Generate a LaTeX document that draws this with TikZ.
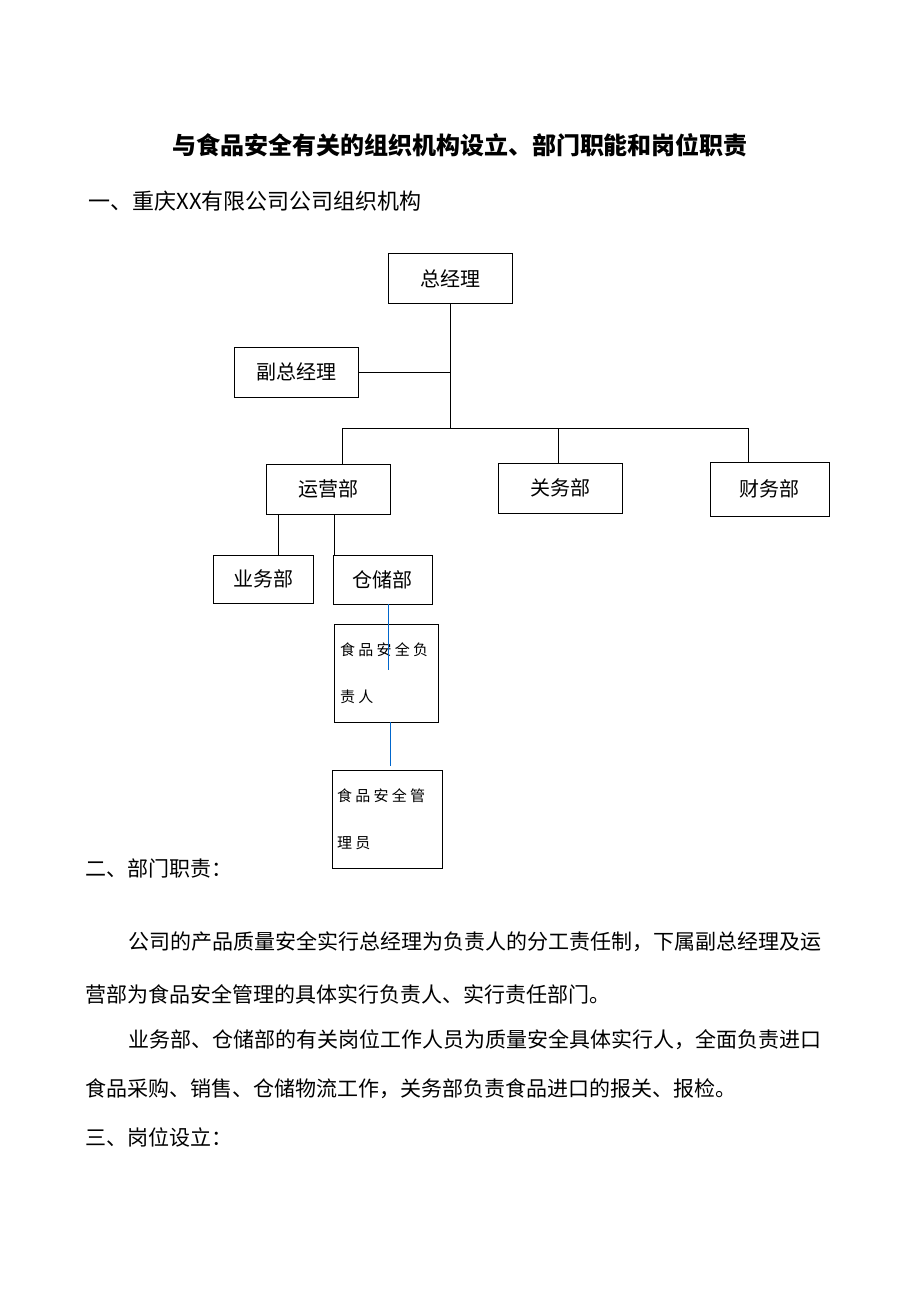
\documentclass[tikz,border=0pt]{standalone}
\usepackage{fontspec}
\setmainfont{Noto Sans CJK SC}
\newfontfamily\spacedfont[LetterSpace=22]{Noto Sans CJK SC}
\usetikzlibrary{positioning}
\begin{document}
\begin{tikzpicture}[
		x=1pt,y=-1pt,
		line width=1pt,
		box/.style={ draw, line width=.8pt, minimum width=124pt, minimum height=50pt, font=\fontsize{20}{24}\selectfont, },
		smallbox/.style={ box, minimum width=100pt, minimum height=48pt, },
		tallbox/.style={ draw, line width=.8pt, text width=92pt, minimum height=98pt, align=left,
			font=\spacedfont\fontsize{15}{47}\selectfont, },
		txt/.style={ anchor=west, inner sep=0pt, font=\fontsize{21}{25}\selectfont, },
		blueline/.style={ draw=blue!50!cyan!80!black, line width=1pt, },
		]
		\useasboundingbox (0,0) rectangle (920,1302);
		
		\node[inner sep=0pt,font=\fontsize{24}{28}\selectfont\bfseries](title) at (460,145){与食品安全有关的组织机构设立、部门职能和岗位职责};
		\node[txt,font=\fontsize{22}{26}\selectfont](head1) at (88,201){一、重庆XX有限公司公司组织机构};
		
		\node[box](gm) at (450,278.5){总经理};
		\node[box](vgm) at (296,372){副总经理};
		\node[box](ops) at (328,489){运营部};
		\node[box](cus) at (560,488){关务部};
		\node[box,minimum width=119pt,minimum height=54pt](fin) at (769.5,489){财务部};
		\node[smallbox](biz) at (263,579){业务部};
		\node[smallbox,minimum width=99pt,minimum height=49pt](store) at (382.5,579.5){仓储部};
		\node[tallbox,minimum width=104pt](safe) at (386,673){食品安全负\\责人};
		\node[tallbox,minimum width=110pt,text width=100pt](admin) at (387,819){食品安全管\\理员};
		
		\coordinate(hub) at (450,428);
		\coordinate(barL) at (342,428);
		\coordinate(barM) at (558,428);
		\coordinate(barR) at (748,428);
		\draw(gm.south)--(hub);
		\draw(vgm.east)--(vgm.east-|hub);
		\draw(barL)--(barR);
		\draw(barL)--(barL|-ops.north);
		\draw(barM)--(barM|-cus.north);
		\draw(barR)--(barR|-fin.north);
		\draw(biz.north-|278,0)--(278,514);
		\draw(store.north-|334,0)--(334,514);
		
		\coordinate(tipA) at (388,670);
		\coordinate(topB) at (390,722);
		\coordinate(tipB) at (390,766);
		\draw[blueline](store.south-|tipA)--(tipA);
		\draw[blueline](topB)--(tipB);
		
		\node[txt](head2) at (85,868){二、部门职责：};
		\node[txt](p1) at (128,942){公司的产品质量安全实行总经理为负责人的分工责任制，下属副总经理及运};
		\node[txt](p2) at (85,994){营部为食品安全管理的具体实行负责人、实行责任部门。};
		\node[txt](p3) at (128,1040){业务部、仓储部的有关岗位工作人员为质量安全具体实行人，全面负责进口};
		\node[txt](p4) at (85,1089){食品采购、销售、仓储物流工作，关务部负责食品进口的报关、报检。};
		\node[txt](head3) at (85,1137){三、岗位设立：};
	\end{tikzpicture}
\end{document}
